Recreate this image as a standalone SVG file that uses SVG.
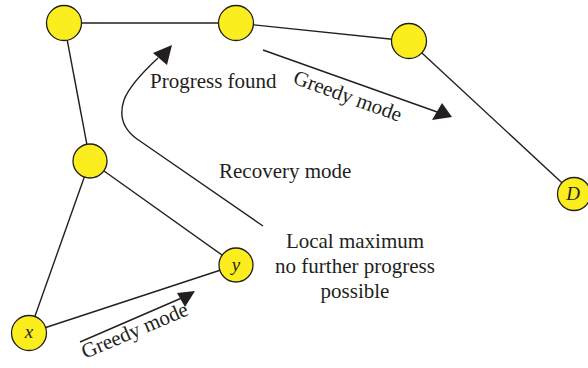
<svg xmlns="http://www.w3.org/2000/svg" width="588" height="368" viewBox="0 0 588 368">
<style>
.n{fill:#fced1f;stroke:#231f20;stroke-width:1.3}
.e{stroke:#231f20;stroke-width:1.4;fill:none}
.t{font-family:"Liberation Serif",serif;font-size:21px;fill:#231f20}
.l{font-family:"Liberation Serif",serif;font-size:19px;font-style:italic;fill:#231f20;text-anchor:middle}
.h{fill:#231f20}
</style>
<rect width="588" height="368" fill="#fff"/>
<g id="connectors">
<line class="e" x1="64" y1="23" x2="236" y2="23"/>
<line class="e" x1="236" y1="23" x2="409" y2="41"/>
<line class="e" x1="409" y1="41" x2="574" y2="194"/>
<line class="e" x1="64" y1="23" x2="90" y2="161"/>
<line class="e" x1="90" y1="161" x2="29" y2="333"/>
<line class="e" x1="90" y1="161" x2="236" y2="265"/>
<line class="e" x1="29" y1="333" x2="236" y2="265"/>
<path class="e" d="M263,226 L137,139 Q116,124 124,100 Q130,84 158,58"/>
<polygon class="h" points="172,45 153,53 167,65"/>
<line class="e" x1="263" y1="50" x2="440" y2="113"/>
<polygon class="h" points="452,117 432,120 442,103"/>
<line class="e" x1="80" y1="342" x2="184" y2="297"/>
<polygon class="h" points="195,291 177,293 185,307"/>
</g>
<g id="nA"><circle class="n" cx="64" cy="23" r="17.5"/></g>
<g id="nB"><circle class="n" cx="236" cy="23" r="17.5"/></g>
<g id="nC"><circle class="n" cx="409" cy="41" r="17.5"/></g>
<g id="nD"><circle class="n" cx="574" cy="194" r="16.5"/><text class="l" x="573" y="200">D</text></g>
<g id="nE"><circle class="n" cx="90" cy="161" r="17"/></g>
<g id="ny"><circle class="n" cx="236" cy="265" r="17"/><text class="l" x="236" y="271">y</text></g>
<g id="nx"><circle class="n" cx="29" cy="333" r="17.5"/><text class="l" x="29" y="338">x</text></g>
<g id="labels">
<text class="t" x="150" y="88">Progress found</text>
<text class="t" x="219" y="178">Recovery mode</text>
<text class="t" x="355" y="248" text-anchor="middle">Local maximum</text>
<text class="t" x="355" y="273" text-anchor="middle">no further progress</text>
<text class="t" x="355" y="298" text-anchor="middle">possible</text>
<text class="t" transform="translate(292,83) rotate(20)">Greedy mode</text>
<text class="t" transform="translate(85,359) rotate(-23)">Greedy mode</text>
</g>
</svg>
